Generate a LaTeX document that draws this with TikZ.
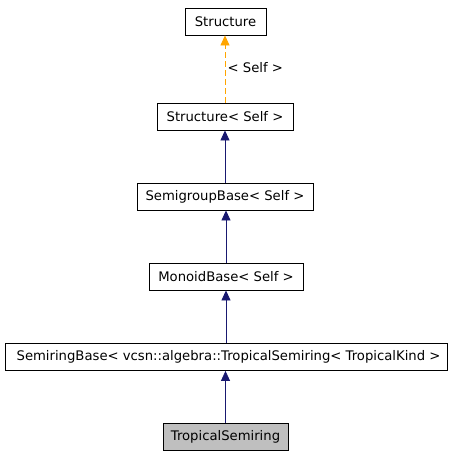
\documentclass[tikz,border=0pt]{standalone}
\usepackage{fontspec}
\setmainfont{DejaVu Sans}
\usetikzlibrary{arrows.meta,positioning}
\definecolor{navy}{RGB}{25,25,112}
\definecolor{tmplorange}{RGB}{255,165,0}
\definecolor{curgray}{RGB}{191,191,191}
\tikzset{
  cls/.style={rectangle,draw=black,fill=white,line width=0.8pt,
              minimum height=27pt,inner sep=0pt,
              font=\fontsize{13.2}{15}\selectfont},
  inherit/.style={-{Triangle[length=10pt,width=9pt]},line width=0.8pt,navy},
  tmpl/.style={-{Triangle[length=10pt,width=9pt]},line width=0.8pt,
               tmplorange,dashed,dash pattern=on 6pt off 3pt},
}

\begin{document}
\begin{tikzpicture}[x=1pt,y=-1pt]
    \useasboundingbox (0,0) rectangle (451,456);
    \node[cls,minimum width=81pt]  (S)  at (225.5,21.5)  {Structure};
    \node[cls,minimum width=136pt] (SS) at (225,116.5)   {Structure< Self >};
    \node[cls,minimum width=176pt] (SG) at (225,196.5)   {SemigroupBase< Self >};
    \node[cls,minimum width=154pt] (MB) at (226,276.5)   {MonoidBase< Self >};
    \node[cls,minimum width=442pt] (SR) at (226,357)
      {\hspace*{5pt}SemiringBase< vcsn::algebra::TropicalSemiring< TropicalKind >};
    \node[cls,fill=curgray,minimum width=125pt] (TS) at (225.5,436.5) {TropicalSemiring};

    \draw[tmpl] (SS.north) -- (SS.north|-S.south)
      node[pos=0.52,right=-1pt,text=black,font=\fontsize{13.2}{15}\selectfont] {< Self >};
    \draw[inherit] (SG.north) -- (SG.north|-SS.south);
    \draw[inherit] (MB.north) -- (MB.north|-SG.south);
    \draw[inherit] (SR.north) -- (SR.north|-MB.south);
    \draw[inherit] (TS.north) -- (TS.north|-SR.south);
\end{tikzpicture}
\end{document}
